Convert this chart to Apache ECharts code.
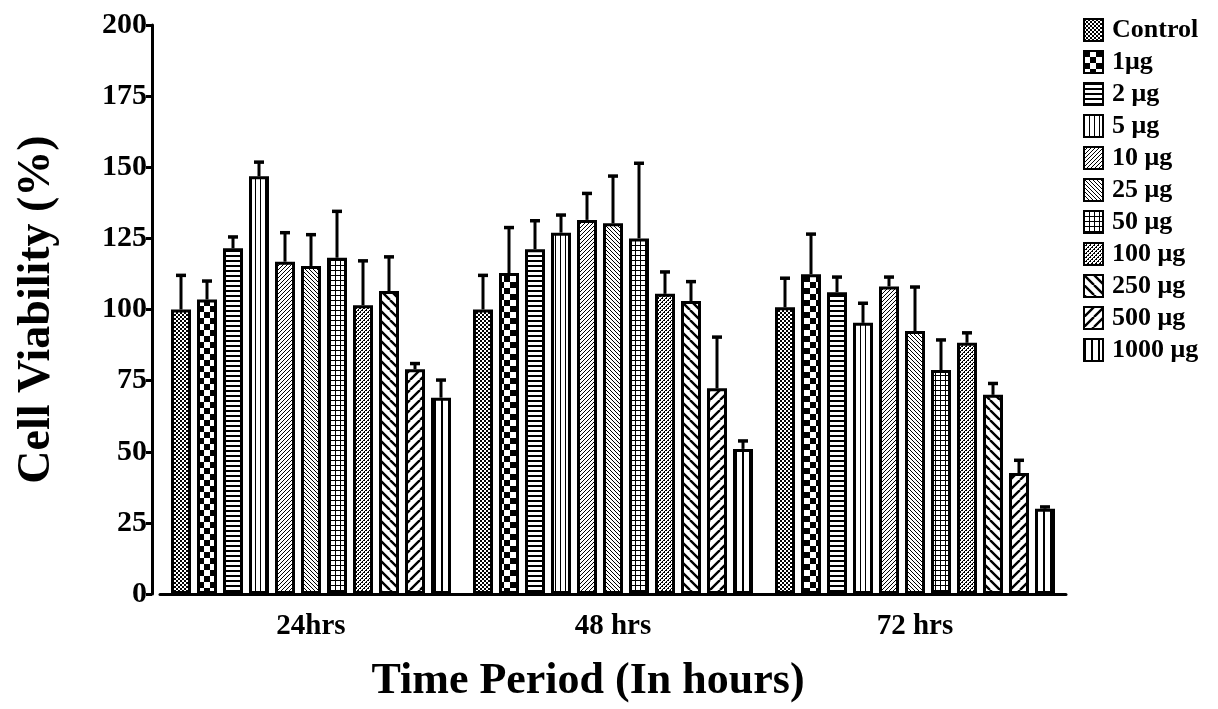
<!DOCTYPE html>
<html>
<head>
<meta charset="utf-8">
<script src="https://cdn.jsdelivr.net/npm/echarts@6/dist/echarts.min.js"></script>
<style>
  html, body { margin: 0; padding: 0; background: #fff; }
  #main { width: 1218px; height: 709px; }
</style>
</head>
<body>
<div id="main"></div>
<script type="text/javascript">
    // 数据
    var times = ['24hrs', '48 hrs', '72 hrs'];
    var doses = ['Control', '1\u03bcg', '2 \u03bcg', '5 \u03bcg', '10 \u03bcg', '25 \u03bcg', '50 \u03bcg', '100 \u03bcg', '250 \u03bcg', '500 \u03bcg', '1000 \u03bcg'];
    var mean24 = [100, 103.5, 121.5, 146.8, 116.8, 115.3, 118.2, 101.5, 106.5, 79, 69];
    var mean48 = [100, 112.8, 121.2, 127, 131.5, 130.3, 125, 105.5, 103, 72.3, 51];
    var mean72 = [100.8, 112.4, 106.1, 95.3, 108.1, 92.4, 78.7, 88.3, 70, 42.5, 30];
    var err24 = [12, 6.5, 4, 5, 10.2, 11, 16.3, 15.6, 12, 2, 6.2];
    var err48 = [12, 16, 10, 6.2, 9.3, 16.6, 26.4, 7.7, 6.8, 18, 2.8];
    var err72 = [10.2, 14.1, 5.3, 6.9, 3.3, 15.5, 10.6, 3.5, 4, 4.5, 0.6];
    var yTicks = [0, 25, 50, 75, 100, 125, 150, 175, 200];

    var FONT = '"Liberation Serif", "Times New Roman", serif';

    // 填充图案
    function pat(w, h, draw) {
        var c = document.createElement('canvas');
        c.width = w; c.height = h;
        var g = c.getContext('2d');
        g.fillStyle = '#fff';
        g.fillRect(0, 0, w, h);
        g.fillStyle = '#000';
        g.strokeStyle = '#000';
        draw(g, w, h);
        return {image: c, repeat: 'repeat'};
    }
    function diag(g, n, up) {
        for (var k = 0; k < n; k++) {
            g.fillRect(up ? n - 1 - k : k, k, 1, 1);
        }
    }
    function thickDiag(g, n, up) {
        g.lineWidth = 2.4;
        g.beginPath();
        for (var o = -n; o <= n; o += n) {
            if (up) { g.moveTo(o, n); g.lineTo(o + n, 0); }
            else { g.moveTo(o, 0); g.lineTo(o + n, n); }
        }
        g.stroke();
    }
    var patterns = [
        pat(4, 4, function (g) { g.fillRect(0, 0, 2, 2); g.fillRect(2, 2, 2, 2); }),
        pat(12, 12, function (g) { g.fillRect(0, 0, 6, 6); g.fillRect(6, 6, 6, 6); }),
        pat(1, 5, function (g) { g.fillRect(0, 0, 1, 2); }),
        pat(5, 1, function (g) { g.fillRect(0, 0, 1, 1); }),
        pat(4, 4, function (g) { diag(g, 4, true); }),
        pat(4, 4, function (g) { diag(g, 4, false); }),
        pat(5, 5, function (g) { g.fillRect(0, 0, 5, 1); g.fillRect(0, 0, 1, 5); }),
        pat(4, 4, function (g) { diag(g, 4, true); g.fillRect(0, 0, 1, 1); g.fillRect(2, 2, 1, 1); }),
        pat(10, 10, function (g) { thickDiag(g, 10, false); }),
        pat(10, 10, function (g) { thickDiag(g, 10, true); }),
        pat(7, 1, function (g) { g.fillRect(0, 0, 2, 1); })
    ];

    var means = [mean24, mean48, mean72];
    var errs = [err24, err48, err72];
    var BW = 20, GAP = 6;

    var series = [];
    doses.forEach(function (d, i) {
        series.push({
            name: d,
            type: 'bar',
            barWidth: BW,
            barGap: (GAP / BW * 100) + '%',
            data: means.map(function (m) { return m[i]; }),
            itemStyle: {color: patterns[i], borderColor: '#000', borderWidth: 3},
            emphasis: {disabled: true}
        });
    });

    // 误差线
    var errData = [];
    means.forEach(function (m, t) {
        m.forEach(function (v, i) { errData.push([t, v, errs[t][i], i]); });
    });
    series.push({
        type: 'custom',
        silent: true,
        z: 3,
        data: errData,
        encode: {x: 0, y: 1},
        renderItem: function (params, api) {
            var t = api.value(0), v = api.value(1), e = api.value(2), i = api.value(3);
            var b = api.coord([t, v]);
            var top = api.coord([t, v + e]);
            var x = b[0] + (i - 5) * (BW + GAP);
            return {
                type: 'group',
                children: [
                    {type: 'line', shape: {x1: x, y1: b[1], x2: x, y2: top[1]}, style: {stroke: '#000', lineWidth: 3}},
                    {type: 'line', shape: {x1: x - 5, y1: top[1], x2: x + 5, y2: top[1]}, style: {stroke: '#000', lineWidth: 3.5}}
                ]
            };
        }
    });

    var myChart = echarts.init(document.getElementById('main'));
    var option = {
        animation: false,
        backgroundColor: '#fff',
        grid: {left: 160, top: 25, width: 906, height: 576},
        legend: {
            data: doses,
            orient: 'vertical',
            left: 1078,
            top: 12,
            icon: 'rect',
            itemWidth: 19,
            itemHeight: 22,
            itemGap: 6,
            selectedMode: false,
            textStyle: {fontFamily: FONT, fontWeight: 'bold', fontSize: 26, lineHeight: 22, color: '#000', padding: [0, 0, 0, 4]}
        },
        xAxis: {
            type: 'category',
            data: times,
            name: 'Time Period (In hours)',
            nameLocation: 'middle',
            nameGap: 66,
            nameTextStyle: {fontFamily: FONT, fontWeight: 'bold', fontSize: 44, color: '#000', padding: [0, 50, 0, 0]},
            axisLine: {lineStyle: {color: '#000', width: 3}},
            axisTick: {alignWithLabel: true, length: 7, lineStyle: {color: '#000', width: 3}},
            axisLabel: {fontFamily: FONT, fontWeight: 'bold', fontSize: 29, color: '#000', margin: 18}
        },
        yAxis: {
            type: 'value',
            min: yTicks[0],
            max: yTicks[yTicks.length - 1],
            interval: 25,
            offset: 8,
            name: 'Cell Viability (%)',
            nameLocation: 'middle',
            nameGap: 92,
            nameTextStyle: {fontFamily: FONT, fontWeight: 'bold', fontSize: 46, color: '#000'},
            splitLine: {show: false},
            axisLine: {show: true, lineStyle: {color: '#000', width: 3}},
            axisTick: {show: true, length: 6, lineStyle: {color: '#000', width: 3}},
            axisLabel: {fontFamily: FONT, fontWeight: 'bold', fontSize: 30, color: '#000', margin: 5}
        },
        series: series
    };
    myChart.setOption(option);
</script>
</body>
</html>
